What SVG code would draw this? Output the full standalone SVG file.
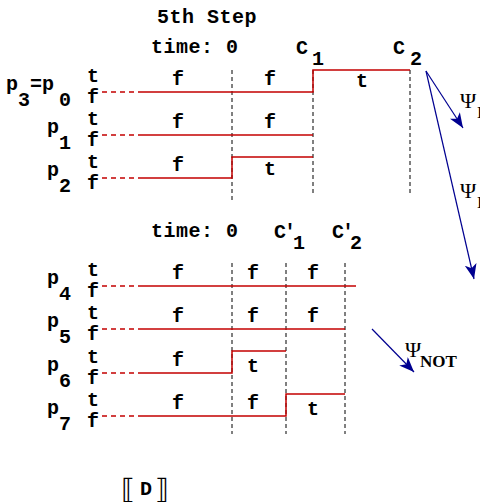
<svg xmlns="http://www.w3.org/2000/svg" width="480" height="502" viewBox="0 0 480 502">
<style>
text{font-family:"Liberation Mono","Courier New",monospace;font-weight:bold;font-size:20px;fill:#000}
.ps{font-family:"Liberation Serif","Times New Roman",serif;font-weight:normal;font-size:22px}
.sub{font-family:"Liberation Serif","Times New Roman",serif;font-weight:bold;font-size:17px}
.br{font-family:"DejaVu Sans",sans-serif;font-weight:normal;font-size:28px}
.sig{stroke:#c40000;stroke-width:1.5;fill:none}
.sd{stroke:#c40000;stroke-width:1.5;stroke-dasharray:5 4;fill:none}
.vd{stroke:#000;stroke-width:1;stroke-dasharray:4 3;fill:none}
.ar{stroke:#000090;stroke-width:1.2;fill:none;marker-end:url(#ah)}
</style>
<defs>
<marker id="ah" markerWidth="16" markerHeight="12" refX="15" refY="6" orient="auto" markerUnits="userSpaceOnUse">
<path d="M0,0 L15,6 L0,12 L4,6 Z" fill="#000090"/>
</marker>
</defs>
<g id="titles">
<text x="157" y="23" letter-spacing="0.5">5th Step</text>
<text x="151" y="53" letter-spacing="0.5">time: 0</text>
<text x="296" y="54">C</text><text x="312" y="65">1</text>
<text x="393" y="54">C</text><text x="410" y="65">2</text>
<text x="151" y="237" letter-spacing="0.5">time: 0</text>
<text x="274" y="238">C</text><text x="284" y="238">′</text><text x="293" y="249">1</text>
<text x="332" y="238">C</text><text x="342" y="238">′</text><text x="350" y="249">2</text>
</g>
<g id="verticals">
<line class="vd" x1="232" y1="70" x2="232" y2="200"/>
<line class="vd" x1="313" y1="70" x2="313" y2="195"/>
<line class="vd" x1="410" y1="70" x2="410" y2="195"/>
<line class="vd" x1="232" y1="263" x2="232" y2="434"/>
<line class="vd" x1="286" y1="263" x2="286" y2="434"/>
<line class="vd" x1="345" y1="263" x2="345" y2="434"/>
</g>
<g id="p3">
<text x="6" y="90">p</text><text x="18" y="106">3</text><text x="30" y="90">=</text><text x="42" y="90">p</text><text x="59" y="106">0</text>
<text x="87" y="82">t</text><text x="87" y="103">f</text>
<line class="sd" x1="102" y1="92" x2="138" y2="92"/>
<path class="sig" d="M138,92 H313 V70 H410"/>
<text x="172" y="85">f</text><text x="264" y="85">f</text><text x="356" y="87">t</text>
</g>
<g id="p1">
<text x="47" y="133">p</text><text x="59" y="149">1</text>
<text x="87" y="125">t</text><text x="87" y="146">f</text>
<line class="sd" x1="102" y1="135" x2="138" y2="135"/>
<path class="sig" d="M138,135 H313"/>
<text x="172" y="128">f</text><text x="264" y="128">f</text>
</g>
<g id="p2">
<text x="47" y="176">p</text><text x="59" y="192">2</text>
<text x="87" y="168">t</text><text x="87" y="189">f</text>
<line class="sd" x1="102" y1="178" x2="138" y2="178"/>
<path class="sig" d="M138,178 H232 V157 H313"/>
<text x="172" y="171">f</text><text x="264" y="175">t</text>
</g>
<g id="p4">
<text x="47" y="284">p</text><text x="59" y="300">4</text>
<text x="87" y="276">t</text><text x="87" y="297">f</text>
<line class="sd" x1="102" y1="286" x2="138" y2="286"/>
<path class="sig" d="M138,286 H356"/>
<text x="172" y="279">f</text><text x="247" y="279">f</text><text x="307" y="279">f</text>
</g>
<g id="p5">
<text x="47" y="327">p</text><text x="59" y="343">5</text>
<text x="87" y="319">t</text><text x="87" y="340">f</text>
<line class="sd" x1="102" y1="329" x2="138" y2="329"/>
<path class="sig" d="M138,329 H345"/>
<text x="172" y="322">f</text><text x="247" y="322">f</text><text x="307" y="322">f</text>
</g>
<g id="p6">
<text x="47" y="371">p</text><text x="59" y="387">6</text>
<text x="87" y="363">t</text><text x="87" y="384">f</text>
<line class="sd" x1="102" y1="373" x2="138" y2="373"/>
<path class="sig" d="M138,373 H232 V351 H286"/>
<text x="172" y="366">f</text><text x="247" y="372">t</text>
</g>
<g id="p7">
<text x="47" y="414">p</text><text x="59" y="430">7</text>
<text x="87" y="406">t</text><text x="87" y="427">f</text>
<line class="sd" x1="102" y1="416" x2="138" y2="416"/>
<path class="sig" d="M138,416 H286 V394 H345"/>
<text x="172" y="409">f</text><text x="247" y="409">f</text><text x="307" y="415">t</text>
</g>
<g id="connectors">
<line class="ar" x1="426" y1="71" x2="463" y2="128"/>
<line class="ar" x1="426" y1="71" x2="474" y2="279"/>
<line class="ar" x1="372" y1="329" x2="414" y2="372"/>
</g>
<g id="labels">
<text class="ps" x="460" y="108">Ψ</text><text class="sub" x="477" y="118">I</text>
<text class="ps" x="460" y="198">Ψ</text><text class="sub" x="477" y="208">I</text>
<text class="ps" x="405" y="357">Ψ</text><text class="sub" x="420" y="367">NOT</text>
</g>
<g id="semantics">
<text class="br" x="121" y="499">⟦</text>
<text x="140" y="495">D</text>
<text class="br" x="155" y="499">⟧</text>
</g>
</svg>
